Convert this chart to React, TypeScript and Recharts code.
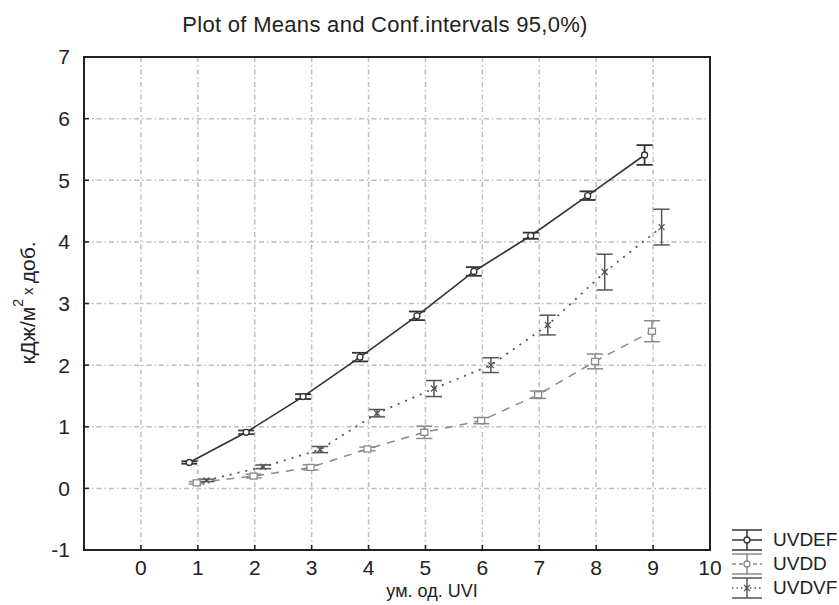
import React from "react";
import { CartesianGrid, ComposedChart, ErrorBar, Line, ReferenceArea, XAxis, YAxis } from "recharts";

const xTicks = [0, 1, 2, 3, 4, 5, 6, 7, 8, 9, 10];
const yTicks = [-1, 0, 1, 2, 3, 4, 5, 6, 7];

// UVDEF - solid
const xEF = [0.85, 1.85, 2.85, 3.85, 4.85, 5.85, 6.85, 7.85, 8.85];
const meanEF = [0.42, 0.91, 1.49, 2.13, 2.8, 3.52, 4.1, 4.75, 5.41];
const errEF = [0.02, 0.03, 0.04, 0.07, 0.07, 0.07, 0.05, 0.07, 0.16];

// UVDD - dashed
const xDD = [0.98, 1.98, 2.98, 3.98, 4.98, 5.98, 6.98, 7.98, 8.98];
const meanDD = [0.09, 0.2, 0.34, 0.64, 0.91, 1.1, 1.52, 2.06, 2.55];
const errDD = [0.02, 0.03, 0.04, 0.03, 0.1, 0.05, 0.06, 0.12, 0.17];

// UVDVF - dotted
const xVF = [1.15, 2.15, 3.15, 4.15, 5.15, 6.15, 7.15, 8.15, 9.15];
const meanVF = [0.13, 0.35, 0.63, 1.22, 1.62, 2.0, 2.65, 3.51, 4.24];
const errVF = [0.02, 0.03, 0.05, 0.06, 0.13, 0.12, 0.16, 0.29, 0.29];

const build = (xs: number[], ys: number[], es: number[]) =>
  xs.map((x, i) => ({ x, y: ys[i], err: es[i] }));

const dataEF = build(xEF, meanEF, errEF);
const dataDD = build(xDD, meanDD, errDD);
const dataVF = build(xVF, meanVF, errVF);

const FONT = "'Liberation Sans', Arial, sans-serif";
const cEF = "#333";
const cDD = "#8a8a8a";
const cVF = "#555";

const circleDot = (p: any) => (
  <circle key={`e${p.index}`} cx={p.cx} cy={p.cy} r={3} fill="#fff" stroke={cEF} strokeWidth={1.3} />
);
const squareDot = (p: any) => (
  <rect key={`d${p.index}`} x={p.cx - 3.5} y={p.cy - 3} width={7} height={6} fill="#fff" stroke={cDD} strokeWidth={1.3} />
);
const crossDot = (p: any) => (
  <g key={`v${p.index}`} stroke={cVF} strokeWidth={1.3}>
    <line x1={p.cx - 3} y1={p.cy - 3} x2={p.cx + 3} y2={p.cy + 3} />
    <line x1={p.cx - 3} y1={p.cy + 3} x2={p.cx + 3} y2={p.cy - 3} />
  </g>
);
const noTick = () => <g />;

const YLabel = () => (
  <text
    transform="translate(27,303) rotate(-90)"
    textAnchor="middle"
    dominantBaseline="central"
    fontFamily={FONT}
    fontSize={21}
    fill="#222"
  >
    кДж/м
    <tspan fontSize={14} dy={-9}>2</tspan>
    <tspan fontSize={15} dy={9}> x </tspan>
    доб.
  </text>
);

const XLabel = () => (
  <text x={432} y={597} textAnchor="middle" fontFamily={FONT} fontSize={18} fill="#222">
    ум. од. UVI
  </text>
);

const legendItems = [
  { name: "UVDEF", color: cEF, dash: undefined, mark: "o" },
  { name: "UVDD", color: cDD, dash: "4 3", mark: "o" },
  { name: "UVDVF", color: cVF, dash: "1.5 3", mark: "x" },
];

const Legendish = () => (
  <div style={{ position: "absolute", left: 730, top: 528, fontFamily: FONT, fontSize: 19, color: "#222" }}>
    {legendItems.map((it) => (
      <div key={it.name} style={{ display: "flex", alignItems: "center", height: 24 }}>
        <svg width={36} height={24}>
          <g stroke={it.color} strokeWidth={1.5}>
            <line x1={2} y1={2} x2={32} y2={2} />
            <line x1={2} y1={22} x2={32} y2={22} />
            <line x1={17} y1={2} x2={17} y2={22} />
            <line x1={2} y1={12} x2={32} y2={12} strokeDasharray={it.dash} />
          </g>
          {it.mark === "o" ? (
            <circle cx={17} cy={12} r={3} fill="#fff" stroke={it.color} strokeWidth={1.3} />
          ) : (
            <g stroke={it.color} strokeWidth={1.3}>
              <line x1={14} y1={9} x2={20} y2={15} />
              <line x1={14} y1={15} x2={20} y2={9} />
            </g>
          )}
        </svg>
        <span style={{ marginLeft: 7 }}>{it.name}</span>
      </div>
    ))}
  </div>
);

export default function App() {
  const tickStyle = { fontFamily: FONT, fontSize: 21, fill: "#222" };
  const tl = { stroke: "#222", strokeWidth: 1.5 };
  return (
    <div style={{ position: "absolute", left: 0, top: 0, width: 839, height: 605, background: "#fff", overflow: "hidden" }}>
      <div
        style={{
          position: "absolute",
          left: 0,
          top: 12,
          width: 770,
          textAlign: "center",
          fontFamily: FONT,
          fontSize: 22,
          letterSpacing: 0.3,
          lineHeight: "26px",
          color: "#222",
        }}
      >
        Plot of Means and Conf.intervals 95,0%)
      </div>
      <ComposedChart width={839} height={605} margin={{ top: 57, right: 129, bottom: 0, left: 0 }}>
        <CartesianGrid
          xAxisId="b"
          yAxisId="l"
          stroke="#bdbdbd"
          strokeWidth={1.5}
          strokeDasharray="5 3 1.5 3"
        />
        <XAxis
          xAxisId="b"
          dataKey="x"
          type="number"
          domain={[-1, 10]}
          ticks={xTicks}
          allowDataOverflow
          height={55}
          tick={tickStyle}
          tickSize={-5}
          tickMargin={15}
          tickLine={tl}
          axisLine={false}
        />
        <XAxis
          xAxisId="t"
          orientation="top"
          type="number"
          domain={[-1, 10]}
          ticks={xTicks}
          allowDataOverflow
          height={0}
          tick={noTick}
          tickSize={-5}
          tickLine={tl}
          axisLine={false}
        />
        <YAxis
          yAxisId="l"
          type="number"
          domain={[-1, 7]}
          ticks={yTicks}
          allowDataOverflow
          width={84}
          tick={tickStyle}
          tickSize={-5}
          tickMargin={19}
          tickLine={tl}
          axisLine={false}
        />
        <YAxis
          yAxisId="r"
          orientation="right"
          type="number"
          domain={[-1, 7]}
          ticks={yTicks}
          allowDataOverflow
          width={0}
          tick={noTick}
          tickSize={-5}
          tickLine={tl}
          axisLine={false}
        />
        <ReferenceArea
          xAxisId="b"
          yAxisId="l"
          x1={-1}
          x2={10}
          y1={-1}
          y2={7}
          fill="none"
          fillOpacity={0}
          stroke="#222"
          strokeWidth={2}
          strokeOpacity={1}
          ifOverflow="visible"
        />
        <Line
          xAxisId="b"
          yAxisId="l"
          data={dataDD}
          dataKey="y"
          type="linear"
          stroke={cDD}
          strokeWidth={1.5}
          strokeDasharray="8 7"
          dot={squareDot}
          activeDot={false}
          isAnimationActive={false}
        >
          <ErrorBar dataKey="err" width={8} stroke={cDD} strokeWidth={1.5} direction="y" />
        </Line>
        <Line
          xAxisId="b"
          yAxisId="l"
          data={dataVF}
          dataKey="y"
          type="linear"
          stroke={cVF}
          strokeWidth={1.8}
          strokeDasharray="2 6"
          dot={crossDot}
          activeDot={false}
          isAnimationActive={false}
        >
          <ErrorBar dataKey="err" width={8} stroke={cVF} strokeWidth={1.5} direction="y" />
        </Line>
        <Line
          xAxisId="b"
          yAxisId="l"
          data={dataEF}
          dataKey="y"
          type="linear"
          stroke={cEF}
          strokeWidth={1.6}
          dot={circleDot}
          activeDot={false}
          isAnimationActive={false}
        >
          <ErrorBar dataKey="err" width={8} stroke={cEF} strokeWidth={1.8} direction="y" />
        </Line>
      </ComposedChart>
      <svg width={839} height={605} style={{ position: "absolute", left: 0, top: 0, pointerEvents: "none" }}>
        <YLabel />
        <XLabel />
      </svg>
      <Legendish />
    </div>
  );
}
